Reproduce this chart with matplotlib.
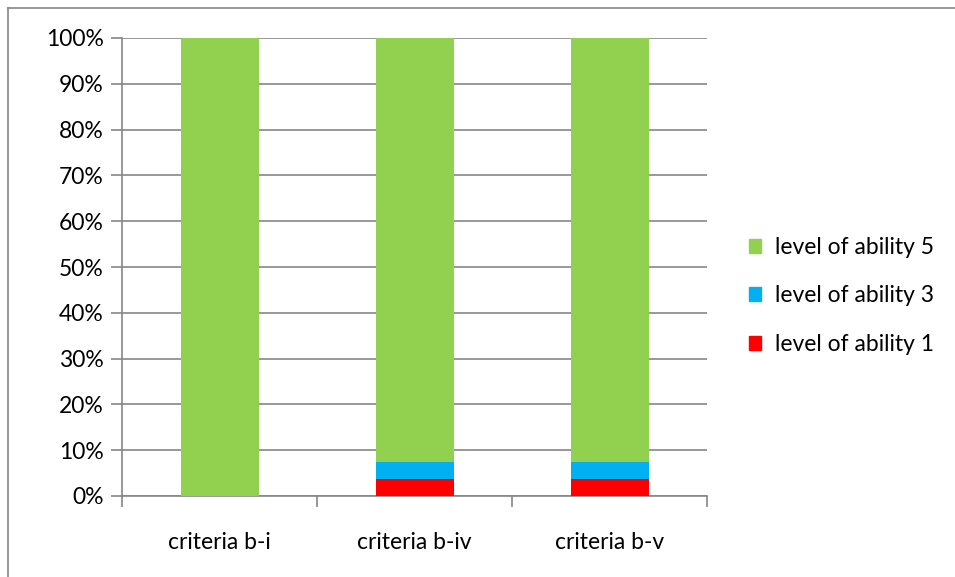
import matplotlib
matplotlib.use('Agg')

import matplotlib.pyplot as plt
from matplotlib.lines import Line2D
from matplotlib.patches import Patch
import numpy as np

categories = ["criteria b-i", "criteria b-iv", "criteria b-v"]
level_1 = [0.0, 3.7, 3.7]
level_3 = [0.0, 3.8, 3.8]
level_5 = [100.0, 92.5, 92.5]
yticks = [0, 10, 20, 30, 40, 50, 60, 70, 80, 90, 100]

plt.rcParams['font.family'] = ['Lato', 'DejaVu Sans']
grey = '#868686'
fs = 16.5

fig = plt.figure(figsize=(9.55, 5.77), dpi=100)
W, H = 955, 577
ax = fig.add_axes([122 / W, 1 - 496 / H, (707 - 122) / W, (496 - 38) / H])

x = np.arange(len(categories))
bottom2 = np.array(level_1) + np.array(level_3)
ax.bar(x, level_1, width=0.4, color='#ff0000', zorder=3)
ax.bar(x, level_3, width=0.4, bottom=level_1, color='#00b0f0', zorder=3)
ax.bar(x, level_5, width=0.4, bottom=bottom2, color='#92d050', zorder=3)

ax.set_xlim(-0.5, 2.5)
ax.set_ylim(0, 100)
ax.set_yticks(yticks)
ax.set_yticklabels([f"{v}%" for v in yticks], fontsize=fs)
ax.yaxis.grid(True, color=grey, linewidth=1.2, zorder=0)

ax.set_xticks(x)
ax.set_xticklabels(categories, fontsize=fs)
ax.tick_params(axis='x', length=0, pad=26)
ax.set_xticks([-0.5, 0.5, 1.5, 2.5], minor=True)
ax.tick_params(axis='x', which='minor', length=8, color=grey, width=1.2)
ax.tick_params(axis='y', length=8, color=grey, width=1.2, pad=5)

for side in ['top', 'right']:
    ax.spines[side].set_visible(False)
for side in ['left', 'bottom']:
    ax.spines[side].set_color(grey)
    ax.spines[side].set_linewidth(1.2)

handles = [Patch(color='#92d050'), Patch(color='#00b0f0'), Patch(color='#ff0000')]
labels = ["level of ability 5", "level of ability 3", "level of ability 1"]
fig.legend(handles, labels, loc='center left', bbox_to_anchor=(728 / W, 1 - 296 / H),
           frameon=False, fontsize=fs, handlelength=0.55, handleheight=0.55,
           handletextpad=0.6, labelspacing=1.2)

# outer chart border (top and left edges visible)
fig.add_artist(Line2D([8 / W, 8 / W], [0, 1 - 8 / H], color=grey, linewidth=1.2))
fig.add_artist(Line2D([8 / W, 1], [1 - 8 / H, 1 - 8 / H], color=grey, linewidth=1.2))

fig.savefig('out.png', dpi=100)
